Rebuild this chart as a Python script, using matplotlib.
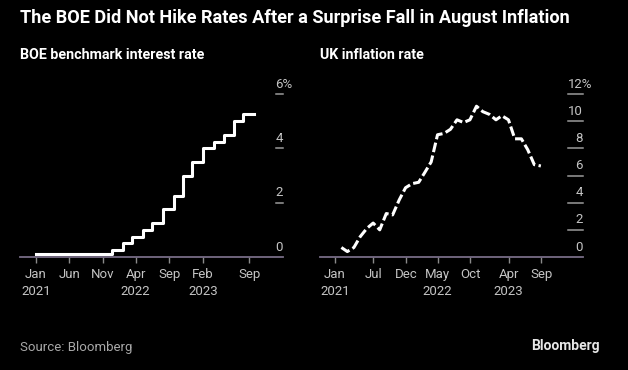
import matplotlib
matplotlib.use("Agg")
import matplotlib.pyplot as plt
import matplotlib.transforms as mtransforms
import pandas as pd

# BOE bank rate, changes (step post)
boe_dates = ["2021-01-01", "2021-12-16", "2022-02-03", "2022-03-17", "2022-05-05",
             "2022-06-16", "2022-08-04", "2022-09-22", "2022-11-03", "2022-12-15",
             "2023-02-02", "2023-03-23", "2023-05-11", "2023-06-22", "2023-08-03",
             "2023-09-21"]
boe_rate = [0.1, 0.25, 0.5, 0.75, 1.0, 1.25, 1.75, 2.25, 3.0, 3.5,
            4.0, 4.25, 4.5, 5.0, 5.25, 5.25]

# UK CPI y/y, Jan 2021 - Aug 2023 (month end)
cpi_start = "2021-01-31"
cpi = [0.7, 0.4, 0.7, 1.5, 2.1, 2.5, 2.0, 3.2, 3.1, 4.2, 5.1, 5.4,
       5.5, 6.2, 7.0, 9.0, 9.1, 9.4, 10.1, 9.9, 10.1, 11.1, 10.7, 10.5,
       10.1, 10.4, 10.1, 8.7, 8.7, 7.9, 6.8, 6.7]

left_ticks = ["2021-01-01", "2021-06-01", "2021-11-01", "2022-04-01",
              "2022-09-01", "2023-02-01", "2023-09-01"]
left_labels = ["Jan\n2021", "Jun", "Nov", "Apr\n2022", "Sep", "Feb\n2023", "Sep"]
right_ticks = ["2021-01-01", "2021-07-01", "2021-12-01", "2022-05-01",
               "2022-10-01", "2023-04-01", "2023-09-01"]
right_labels = ["Jan\n2021", "Jul", "Dec", "May\n2022", "Oct", "Apr\n2023", "Sep"]

left_yticks = [0, 2, 4, 6]
right_yticks = [0, 2, 4, 6, 8, 10, 12]

plt.rcParams["font.family"] = ["Roboto", "DejaVu Sans"]
plt.rcParams["lines.scale_dashes"] = False

W, H = 628, 370
BG = "black"
fig = plt.figure(figsize=(W / 100, H / 100), dpi=100, facecolor=BG)
renderer = fig.canvas.get_renderer()


def px_axes(x0, x1, ytop, ybot):
    return fig.add_axes([x0 / W, 1 - ybot / H, (x1 - x0) / W, (ybot - ytop) / H])


def style(ax, ticks, labels, yticks, dash_from):
    ax.set_facecolor(BG)
    for s in ["top", "left", "right"]:
        ax.spines[s].set_visible(False)
    ax.spines["bottom"].set_color("#776c86")
    ax.spines["bottom"].set_linewidth(1.3)
    ax.set_xticks(pd.to_datetime(ticks))
    ax.set_xticklabels(labels, color="#c4c4c4", fontsize=9.5, linespacing=1.35)
    ax.tick_params(axis="x", length=4, width=1, color="#8a8a8a", pad=4)
    ax.set_yticks([])
    trans = mtransforms.blended_transform_factory(ax.transAxes, ax.transData)
    off = mtransforms.offset_copy(trans, fig=fig, y=2.5, units="points")
    for v in yticks:
        if v != 0:
            ax.plot([dash_from, 1.0], [v, v], transform=trans, color="#9a9a9a",
                    lw=1.1, clip_on=False)
        t = ax.text(1.0, v, str(v), transform=off, ha="right", va="bottom",
                    color="#c4c4c4", fontsize=9.5)
        if v == yticks[-1]:
            # top label carries the unit; keep digits right-aligned to the dash
            x0 = t.get_window_extent(renderer).x0
            t.remove()
            xa = ax.transAxes.inverted().transform((x0, 0))[0]
            ax.text(xa, v, f"{v}%", transform=off, ha="left", va="bottom",
                    color="#c4c4c4", fontsize=9.5)


# left panel
ax1 = px_axes(20, 283, 94, 257)
ax1.step(pd.to_datetime(boe_dates), boe_rate, where="post", color="white", lw=2.2)
ax1.set_xlim(pd.Timestamp("2020-10-20"), pd.Timestamp("2024-02-02"))
ax1.set_ylim(0, 6)
style(ax1, left_ticks, left_labels, left_yticks, 0.973)

# right panel
ax2 = px_axes(320, 583, 94, 257)
cpi_dates = pd.date_range(cpi_start, periods=len(cpi), freq="ME")
ax2.plot(cpi_dates, cpi, color="white", lw=2.2, dashes=(7, 2.5))
ax2.set_xlim(pd.Timestamp("2020-10-22"), pd.Timestamp("2024-03-17"))
ax2.set_ylim(0, 12)
style(ax2, right_ticks, right_labels, right_yticks, 0.943)

fig.text(20 / W, 1 - 18 / H, "The BOE Did Not Hike Rates After a Surprise Fall in August Inflation",
         color="white", fontsize=13.1, fontweight="bold", va="center", ha="left")
fig.text(20 / W, 1 - 55 / H, "BOE benchmark interest rate", color="white",
         fontsize=10.3, fontweight="bold", va="center", ha="left")
fig.text(320 / W, 1 - 55 / H, "UK inflation rate", color="white",
         fontsize=10.3, fontweight="bold", va="center", ha="left")
fig.text(20 / W, 1 - 347 / H, "Source: Bloomberg", color="#a8a8a8",
         fontsize=9.5, va="center", ha="left")
fig.text(600 / W, 1 - 346 / H, "Bloomberg", color="#e6e6e6",
         fontsize=10, fontweight="bold", va="center", ha="right")

fig.savefig("out.png", dpi=100, facecolor=BG)
